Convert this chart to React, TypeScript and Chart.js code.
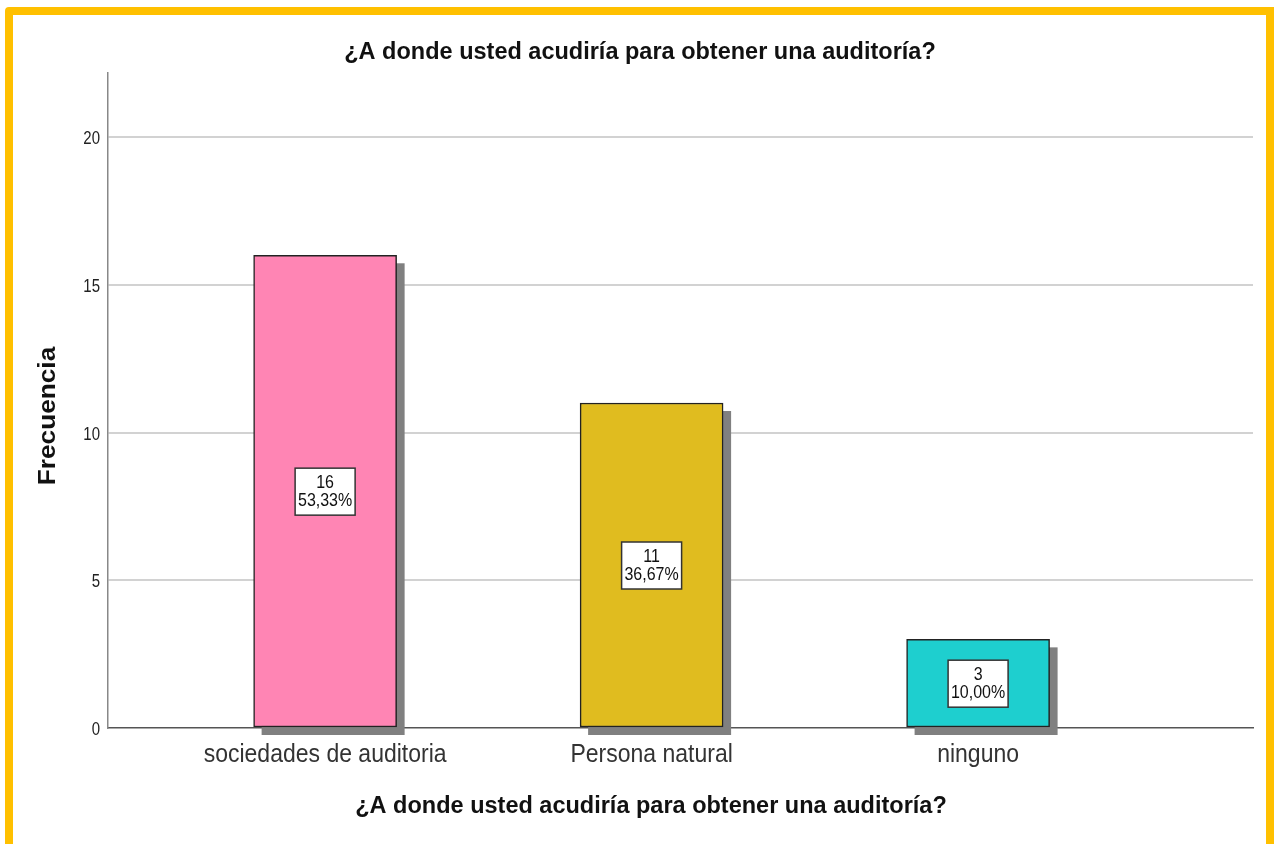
import React, { useEffect, useRef } from "react";
import { Chart, registerables } from "chart.js";

Chart.register(...registerables);

const categories = ["sociedades de auditoria", "Persona natural", "ninguno"];
const counts = [16, 11, 3];
const percents = ["53,33%", "36,67%", "10,00%"];
const barColors = ["#FF85B4", "#E0BC1F", "#1ECFCF"];
const yTicks = [0, 5, 10, 15, 20];
const titleText = "¿A donde usted acudiría para obtener una auditoría?";
const yTitle = "Frecuencia";

const FONT = "'Liberation Sans', Arial, sans-serif";

function drawText(
  ctx: CanvasRenderingContext2D,
  text: string,
  x: number,
  y: number,
  size: number,
  opts: { bold?: boolean; sx?: number; sy?: number; align?: CanvasTextAlign; color?: string; rotate?: number } = {}
) {
  ctx.save();
  ctx.translate(x, y);
  if (opts.rotate) ctx.rotate(opts.rotate);
  ctx.scale(opts.sx ?? 1, opts.sy ?? 1);
  ctx.font = `${opts.bold ? "bold " : ""}${size}px ${FONT}`;
  ctx.fillStyle = opts.color ?? "#111111";
  ctx.textAlign = opts.align ?? "center";
  ctx.textBaseline = "middle";
  ctx.fillText(text, 0, 0);
  ctx.restore();
}

const shadowPlugin = {
  id: "barShadow",
  beforeDatasetsDraw(chart: any) {
    const ctx = chart.ctx;
    const meta = chart.getDatasetMeta(0);
    ctx.save();
    ctx.fillStyle = "#808080";
    meta.data.forEach((bar: any) => {
      const p = bar.getProps(["x", "y", "base", "width"], true);
      const left = p.x - p.width / 2;
      ctx.fillRect(left + 8, p.y + 8, p.width, p.base - p.y);
    });
    ctx.restore();
  },
  afterDatasetsDraw(chart: any) {
    const ctx = chart.ctx;
    const meta = chart.getDatasetMeta(0);
    const yScale = chart.scales.y;
    ctx.save();
    meta.data.forEach((bar: any, i: number) => {
      const p = bar.getProps(["x"], true);
      const cy = yScale.getPixelForValue(counts[i] / 2);
      const w = 60;
      const h = 47;
      ctx.fillStyle = "#ffffff";
      ctx.fillRect(p.x - w / 2, cy - h / 2, w, h);
      ctx.strokeStyle = "#333333";
      ctx.lineWidth = 1.5;
      ctx.strokeRect(p.x - w / 2, cy - h / 2, w, h);
      drawText(ctx, String(counts[i]), p.x, cy - 8.5, 16, { sy: 1.12 });
      drawText(ctx, percents[i], p.x, cy + 9.5, 16, { sy: 1.12 });
    });
    ctx.restore();
  },
  afterDraw(chart: any) {
    const ctx = chart.ctx;
    const xScale = chart.scales.x;
    const yScale = chart.scales.y;
    drawText(ctx, titleText, 640, 52, 23.5, { bold: true, sy: 1.05 });
    drawText(ctx, titleText, 651, 806, 23.5, { bold: true, sy: 1.05 });
    drawText(ctx, yTitle, 49, 416, 23, { bold: true, rotate: -Math.PI / 2, sx: 1.14 });
    categories.forEach((c, i) => {
      drawText(ctx, c, xScale.getPixelForValue(i + 1), 755, 23, { sy: 1.1, color: "#333333" });
    });
    yTicks.forEach((v) => {
      drawText(ctx, String(v), 100, yScale.getPixelForValue(v) + 2, 15, { sy: 1.22, align: "right", color: "#222222" });
    });
  },
};

export default function App() {
  const ref = useRef<HTMLCanvasElement>(null);
  useEffect(() => {
    if (!ref.current) return;
    const chart = new Chart(ref.current, {
      type: "bar",
      data: {
        datasets: [
          {
            data: counts.map((c, i) => ({ x: i + 1, y: c })),
            backgroundColor: barColors,
            borderColor: "#222222",
            borderWidth: 1.5,
            borderSkipped: false,
            barThickness: 143,
          },
        ],
      },
      options: {
        animation: false,
        responsive: false,
        maintainAspectRatio: false,
        layout: { padding: { left: 48, right: 21, top: 73, bottom: 56 } },
        plugins: {
          legend: { display: false },
          tooltip: { enabled: false },
          title: { display: false },
        },
        scales: {
          x: {
            type: "linear",
            offset: false,
            min: 0.335,
            max: 3.842,
            afterBuildTicks: (scale: any) => {
              scale.ticks = categories.map((_, i) => ({ value: i + 1 }));
            },
            afterFit: (scale: any) => {
              scale.height = 60;
            },
            grid: { display: false, drawTicks: false },
            border: { display: true, color: "#555555", width: 1.5 },
            ticks: { display: false },
          },
          y: {
            type: "linear",
            min: 0,
            max: 22.17,
            afterBuildTicks: (scale: any) => {
              scale.ticks = yTicks.map((v) => ({ value: v }));
            },
            afterFit: (scale: any) => {
              scale.width = 60;
            },
            grid: {
              drawTicks: false,
              lineWidth: 2,
              color: (c: any) => (c.tick && c.tick.value === 0 ? "rgba(0,0,0,0)" : "#d2d2d2"),
            },
            border: { display: true, color: "#888888", width: 1.5 },
            ticks: { display: false },
          },
        },
      },
      plugins: [shadowPlugin],
    } as any);
    return () => chart.destroy();
  }, []);

  return (
    <div style={{ position: "absolute", left: 0, top: 0, width: 1274, height: 844, background: "#ffffff", overflow: "hidden" }}>
      <div
        style={{
          position: "absolute",
          left: 5,
          top: 7,
          width: 1269 - 16,
          height: 844,
          border: "8px solid #FFC000",
          borderTopLeftRadius: 4,
          boxSizing: "content-box",
        }}
      />
      <canvas ref={ref} width={1274} height={844} style={{ position: "absolute", left: 0, top: 0 }} />
    </div>
  );
}
